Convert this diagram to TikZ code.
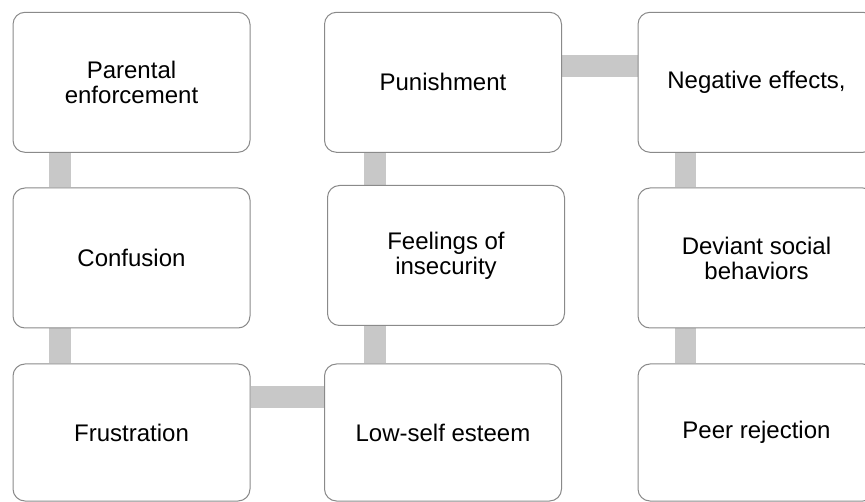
\documentclass[tikz,border=0pt]{standalone}
\usepackage{fontspec}
\setmainfont{Liberation Sans}
\usetikzlibrary{backgrounds}
\definecolor{boxline}{HTML}{8A8A8A}
\definecolor{barfill}{HTML}{C8C8C8}
\tikzset{
	stage/.style={draw=boxline, line width=1pt, fill=white, rounded corners=12pt,
		minimum width=237pt, minimum height=140pt, inner sep=2pt, align=center,
		font=\fontsize{24}{25}\selectfont},
	link/.style={draw=barfill, line width=21.5pt}
}

\begin{document}
\begin{tikzpicture}[x=1pt,y=1pt]
		\useasboundingbox (0,0) rectangle (865,-502);
		% first column
		\node[stage] (parental) at (131.5,-82.3) {Parental\\enforcement};
		\node[stage] (confusion) at (131.5,-258) {Confusion};
		\node[stage,minimum height=137pt] (frustration) at (131.5,-432.5) {Frustration};
		% second column
		\node[stage] (punish) at (443,-82.3) {Punishment};
		\node[stage] (feelings) at (446,-255.5) {Feelings of\\insecurity};
		\node[stage,minimum height=137pt] (lowself) at (443,-432.5) {Low-self esteem};
		% third column
		\node[stage] (negative) at (756.5,-82.3) {Negative effects,};
		\node[stage] (deviant) at (756.5,-258) {Deviant social\\behaviors};
		\node[stage,minimum height=137pt] (peer) at (756.5,-432.5) {Peer rejection};
		\begin{scope}[on background layer]
		\coordinate (c1) at ([xshift=47.5pt]parental.south west);
		\coordinate (c2) at ([xshift=51pt]punish.south west);
		\coordinate (c3) at ([xshift=48pt]negative.south west);
		\foreach \a/\b/\c in {parental/confusion/c1,confusion/frustration/c1,
			punish/feelings/c2,feelings/lowself/c2,negative/deviant/c3,deviant/peer/c3}
		\draw[link] (\c |- \a.south) -- (\c |- \b.north);
		\coordinate (h1) at ([yshift=-33.5pt]frustration.north east);
		\coordinate (h2) at ([yshift=-54pt]punish.north east);
		\draw[link] (h1) -- (h1 -| lowself.west);
		\draw[link] (h2) -- (h2 -| negative.west);
		\end{scope}
\end{tikzpicture}
\end{document}
